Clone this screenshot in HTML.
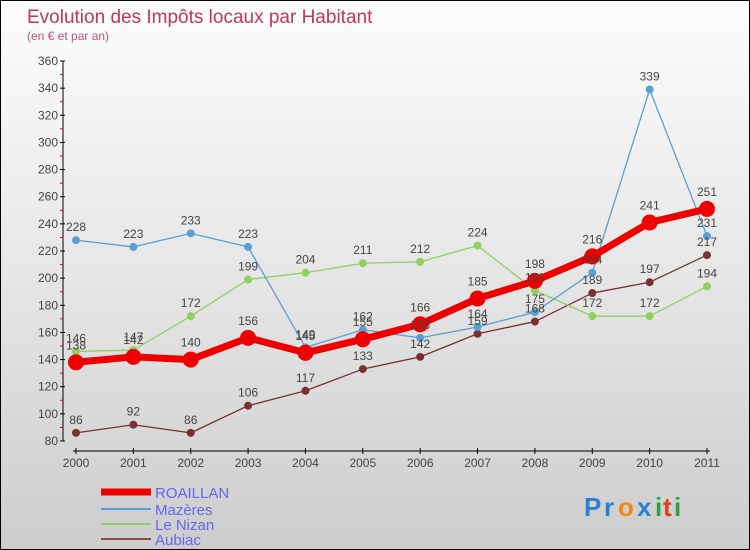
<!DOCTYPE html>
<html><head><meta charset="utf-8"><style>
html,body{margin:0;padding:0}
body{width:750px;height:550px;overflow:hidden;font-family:"Liberation Sans","DejaVu Sans",sans-serif}
#wrap{position:relative;width:748px;height:548px;border:1px solid #000;background:linear-gradient(#fdfdfd,#e6e6e6 50%,#cdcdcd)}
</style></head><body>
<div id="wrap">
<svg id="chart" width="748" height="548" style="position:absolute;left:0;top:0">
<text x="26" y="22" font-size="19" fill="#c0365e">Evolution des Impôts locaux par Habitant</text>
<text x="26" y="39" font-size="12" fill="#c0507a">(en € et par an)</text>
<g id="axes"></g><g id="series"></g><g id="labels"></g>
<g>
<line x1="100" y1="491" x2="150" y2="491" stroke="#e00" stroke-width="7"/>
<text x="154" y="497" font-size="15" fill="#6666ee">ROAILLAN</text>
<line x1="100" y1="508" x2="150" y2="508" stroke="#5a9fd4" stroke-width="2"/>
<text x="154" y="514" font-size="15" fill="#6666ee">Mazères</text>
<line x1="100" y1="523" x2="150" y2="523" stroke="#90d060" stroke-width="2"/>
<text x="154" y="529" font-size="15" fill="#6666ee">Le Nizan</text>
<line x1="100" y1="538" x2="150" y2="538" stroke="#8b4a4a" stroke-width="2"/>
<text x="154" y="544" font-size="15" fill="#6666ee">Aubiac</text>
</g>
<g font-size="26" font-weight="bold">
<text x="583" y="515" fill="#2a7fd0">P</text><text x="603" y="515" fill="#2a7fd0">r</text><text x="617" y="515" fill="#f08a10">o</text><text x="636" y="515" fill="#2a7fd0">x</text><text x="654" y="515" fill="#30a040">i</text><text x="662" y="515" fill="#e04020">t</text><text x="673" y="515" fill="#30a040">i</text>
</g>
</svg>
</div>
<script>
const years=["2000","2001","2002","2003","2004","2005","2006","2007","2008","2009","2010","2011"];
const roaillan=[138,142,140,156,145,155,166,185,198,216,241,251];
const mazeres=[228,223,233,223,149,162,156,164,175,204,339,231];
const leNizan=[146,147,172,199,204,211,212,224,191,172,172,194];
const aubiac=[86,92,86,106,117,133,142,159,168,189,197,217];
const yTicks=[80,100,120,140,160,180,200,220,240,260,280,300,320,340,360];

const NS="http://www.w3.org/2000/svg";
const X0=75,X1=706,YMIN=80,YMAX=360,PY0=440,PY1=60;
function xs(i){return X0+(X1-X0)*i/(years.length-1);}
function ys(v){return PY0-(v-YMIN)*(PY0-PY1)/(YMAX-YMIN);}
function mk(tag,attrs,parent){const e=document.createElementNS(NS,tag);for(const k in attrs)e.setAttribute(k,attrs[k]);parent.appendChild(e);return e;}
const axes=document.getElementById('axes'),ser=document.getElementById('series'),lab=document.getElementById('labels');

let yl=mk('line',{x1:62,y1:PY1,x2:62,y2:PY0,stroke:'#000','stroke-width':1},axes);


let xl=mk('line',{x1:X0-3,y1:450,x2:X1+3,y2:450,stroke:'#000','stroke-width':1},axes);


yTicks.forEach((v,i)=>{
  const y=ys(v);
  mk('line',{x1:59,y1:y,x2:64,y2:y,stroke:'#000'},axes);
  const t=mk('text',{x:57,y:y+4,'font-size':12,fill:'#444','text-anchor':'end'},axes);
  t.textContent=v;
  
  
  if(i<yTicks.length-1){const ym=ys(v+10);mk('line',{x1:59,y1:ym,x2:62,y2:ym,stroke:'#e00'},axes);}
});
years.forEach((yr,i)=>{
  const x=xs(i);
  mk('line',{x1:x,y1:447,x2:x,y2:453,stroke:'#000'},axes);
  const t=mk('text',{x:x,y:466,'font-size':12,fill:'#444','text-anchor':'middle'},axes);
  t.textContent=yr;
  
  
});
function drawSeries(vals,color,w,r,name){
  const g=mk('g',{},ser);
  
  
  mk('polyline',{points:vals.map((v,i)=>xs(i)+','+ys(v)).join(' '),fill:'none',stroke:color,'stroke-width':w,'stroke-linejoin':'round'},g);
  vals.forEach((v,i)=>{
    const c=mk('circle',{cx:xs(i),cy:ys(v),r:r,fill:color},g);
    
    
    const t=mk('text',{x:xs(i),y:ys(v)-(r+5),'font-size':12,fill:'#444','text-anchor':'middle'},lab);
    t.textContent=v;
    
    
  });
}
drawSeries(aubiac,'#7a3030',1.3,4,'aubiac');
drawSeries(leNizan,'#90d060',1.3,4,'le-nizan');
drawSeries(mazeres,'#5a9fd4',1.3,4,'mazeres');
drawSeries(roaillan,'#ee0000',7,8,'roaillan');
</script>
</body></html>
